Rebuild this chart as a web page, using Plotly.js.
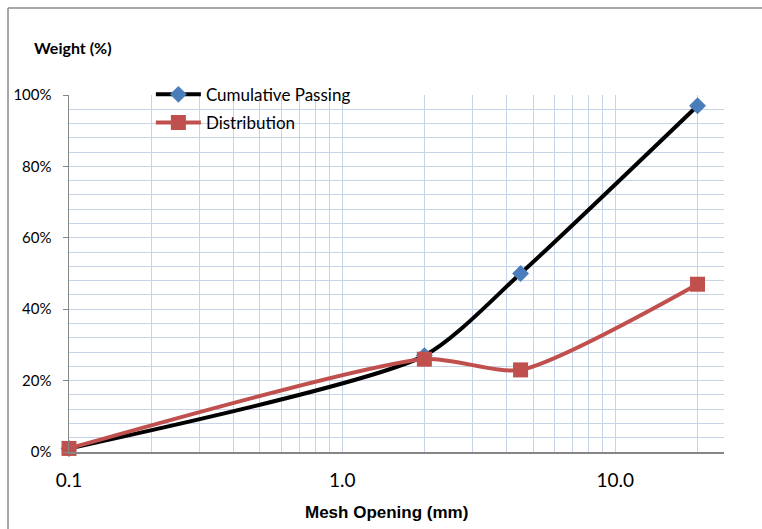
<!DOCTYPE html>
<html>
<head>
<meta charset="utf-8">
<script src="https://cdn.plot.ly/plotly-3.0.1.min.js"></script>
<style>html,body{margin:0;padding:0;background:#fff;}#chart{width:762px;height:529px;}</style>
</head>
<body>
<div id="chart"></div>
<script>
// Data
var meshOpening = [0.1, 2, 4.5, 20];
var cumulativePassing = [0.01, 0.27, 0.50, 0.97];
var distribution = [0.01, 0.26, 0.23, 0.47];
var seriesNames = ['Cumulative Passing', 'Distribution'];
var xGridValues = [0.1,0.2,0.3,0.4,0.5,0.6,0.7,0.8,0.9,1,2,3,4,5,6,7,8,9,10,20];
var xTickText = ['0.1','','','','','','','','','1.0','','','','','','','','','10.0',''];

var gridColor = '#c6d4e8';
var axisColor = '#868686';

var traces = [
  {
    x: meshOpening, y: cumulativePassing, name: seriesNames[0], legendgroup: 'a',
    type: 'scatter', mode: 'lines+markers', cliponaxis: false,
    line: {color: '#000000', width: 4, shape: 'spline', smoothing: 0.65},
    marker: {symbol: 'diamond', size: 13, color: '#4a7ebb'}
  },
  {
    x: meshOpening, y: distribution, name: seriesNames[1], legendgroup: 'b',
    type: 'scatter', mode: 'lines+markers', cliponaxis: false,
    line: {color: '#c0504d', width: 4, shape: 'spline', smoothing: 0.65},
    marker: {symbol: 'square', size: 15, color: '#c0504d'}
  }
];

var layout = {
  width: 762, height: 529,
  margin: {l: 69, r: 38, t: 95, b: 77},
  paper_bgcolor: '#ffffff', plot_bgcolor: '#ffffff',
  font: {family: 'Lato, sans-serif', color: '#000000'},
  showlegend: true,
  legend: {
    x: 0.125, y: 1.051, xanchor: 'left', yanchor: 'top',
    bgcolor: 'rgba(0,0,0,0)', font: {size: 17, family: 'Lato, sans-serif', color: '#000'},
    tracegroupgap: 3, itemwidth: 45
  },
  xaxis: {
    type: 'log', range: [-1, Math.log10(25)],
    tickmode: 'array', tickvals: xGridValues, ticktext: xTickText,
    showgrid: true, gridcolor: gridColor, gridwidth: 1,
    showline: true, linecolor: axisColor, linewidth: 1.5,
    ticks: '', ticklabelstandoff: 11,
    tickfont: {size: 19, family: 'Lato, sans-serif', color: '#000'},
    zeroline: false, fixedrange: true
  },
  yaxis: {
    range: [0, 1], dtick: 0.2, tick0: 0, tickformat: '.0%',
    showgrid: true, gridcolor: gridColor, gridwidth: 1,
    minor: {dtick: 0.04, showgrid: true, gridcolor: gridColor, gridwidth: 1, ticks: ''},
    showline: true, linecolor: axisColor, linewidth: 1.5,
    ticks: 'outside', ticklen: 5, tickcolor: axisColor, ticklabelstandoff: 8,
    tickfont: {size: 15, family: 'Lato, sans-serif', color: '#000'},
    zeroline: false, fixedrange: true
  },
  annotations: [
    {text: '<b>Weight (%)</b>', xref: 'paper', yref: 'paper', x: -0.056, y: 1.133,
     xanchor: 'left', yanchor: 'middle', showarrow: false,
     font: {size: 16, family: 'Lato, sans-serif', color: '#000'}},
    {text: '<b>Mesh Opening (mm)</b>', xref: 'paper', yref: 'paper', x: 0.485, y: -0.17,
     xanchor: 'center', yanchor: 'middle', showarrow: false,
     font: {size: 17, family: 'Liberation Sans, Arial, sans-serif', color: '#000'}}
  ],
  shapes: [
    {type: 'line', xref: 'paper', yref: 'paper', x0: -0.0931, x1: 1.06, y0: 1.2437, y1: 1.2437,
     line: {color: '#8c8c8c', width: 1.5}},
    {type: 'line', xref: 'paper', yref: 'paper', x0: -0.0931, x1: -0.0931, y0: 1.2437, y1: -0.22,
     line: {color: '#8c8c8c', width: 1.5}}
  ]
};

Plotly.newPlot('chart', traces, layout, {displayModeBar: false, staticPlot: true});
</script>
</body>
</html>
